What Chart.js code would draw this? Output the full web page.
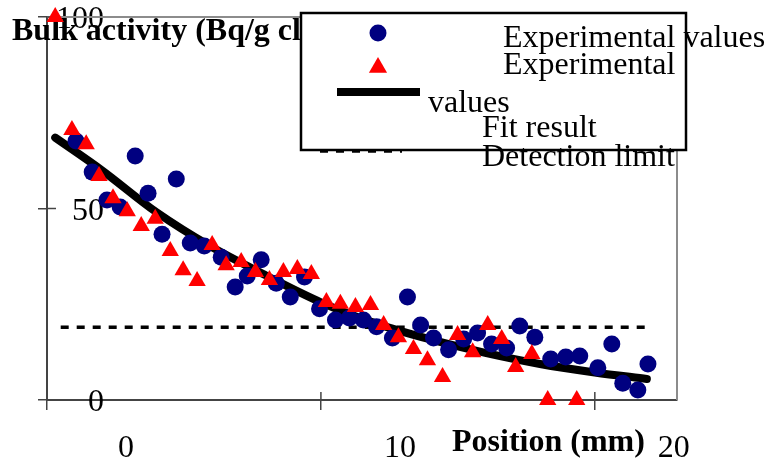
<!DOCTYPE html>
<html><head><meta charset="utf-8">
<script src="https://cdn.jsdelivr.net/npm/chart.js@4/dist/chart.umd.min.js"></script>
<style>html,body{margin:0;padding:0;background:#fff;}#wrap{width:768px;height:465px;}</style>
</head><body><div id="wrap"><canvas id="c" width="768" height="465"></canvas></div>
<script>
const circleX = [1.06,1.65,2.19,2.67,3.22,3.69,4.20,4.72,5.23,5.74,6.36,6.87,7.31,7.82,8.37,8.88,9.40,9.95,10.53,11.04,11.55,12.03,12.61,13.16,13.64,14.11,14.66,15.21,15.72,16.23,16.78,17.26,17.81,18.39,18.94,19.45,20.11,20.62,21.02,21.57,21.94];
const circleY = [67.6,59.5,52.2,50.4,63.7,54.0,43.3,57.7,41.0,40.2,37.3,29.5,32.4,36.6,30.5,26.9,32.1,23.8,20.9,21.4,20.9,19.1,16.2,26.9,19.6,16.2,13.1,15.9,17.5,14.6,13.6,19.3,16.4,10.7,11.2,11.5,8.4,14.6,4.4,2.6,9.4];
const triX = [0.3,0.91,1.43,1.90,2.41,2.93,3.44,3.95,4.50,4.97,5.48,6.03,6.54,7.09,7.61,8.12,8.63,9.14,9.65,10.20,10.71,11.26,11.81,12.29,12.83,13.38,13.89,14.44,14.99,15.54,16.09,16.60,17.11,17.70,18.28,19.34];
const triY = [100,70.5,66.8,58.5,52.7,49.3,45.4,47.3,38.9,33.9,31.1,40.5,35.2,36.0,33.4,31.3,33.4,34.2,32.9,25.6,25.1,24.3,24.8,19.6,16.4,13.3,10.4,6.0,17.0,12.5,19.6,15.9,8.6,12.0,0,0];
const fitX = [0.3,2,4,6,8,10,12,14,16,18,20,21.9];
const fitY = [68.5,60,49,40,32.5,25.5,20,15.8,12.3,9.4,7.2,5.5];
const limitX = [0.5,21.95];
const limitY = [19,19];
const xTicks = [0,10,20];
const yTicks = [0,50,100];
const seriesLabels = ['Experimental values','Experimental values','Fit result','Detection limit'];
const xTitle = 'Position (mm)';
const yTitle = 'Bulk activity (Bq/g clay)';

const FONT = '"Liberation Serif","Times New Roman",serif';
const pts = (xs, ys) => xs.map((v, i) => ({x: v, y: ys[i]}));

const deco = {
  id: 'deco',
  beforeDatasetsDraw(chart) {
    const {ctx, chartArea: a, scales: {x, y}} = chart;
    ctx.save();
    ctx.strokeStyle = '#8c8c8c'; ctx.lineWidth = 2;
    ctx.beginPath(); ctx.moveTo(a.left, a.top); ctx.lineTo(a.right, a.top); ctx.lineTo(a.right, a.bottom); ctx.stroke();
    ctx.strokeStyle = '#444'; ctx.lineWidth = 1.5;
    xTicks.forEach(v => { const px = x.getPixelForValue(v); ctx.beginPath(); ctx.moveTo(px, a.bottom); ctx.lineTo(px, a.bottom - 8); ctx.stroke(); });
    yTicks.forEach(v => { const py = y.getPixelForValue(v); ctx.beginPath(); ctx.moveTo(a.left, py); ctx.lineTo(a.left + 9, py); ctx.stroke(); });
    ctx.fillStyle = '#000'; ctx.font = 'bold 32px ' + FONT; ctx.textAlign = 'left'; ctx.textBaseline = 'alphabetic';
    ctx.fillText(yTitle, 12, 40);
    ctx.fillText(xTitle, 452, 451);
    ctx.restore();
  },
  afterDraw(chart) {
    const ctx = chart.ctx;
    ctx.save();
    ctx.strokeStyle = '#000'; ctx.setLineDash([8, 8]); ctx.lineWidth = 3.5;
    ctx.beginPath(); ctx.moveTo(320, 151); ctx.lineTo(402, 151); ctx.stroke();
    ctx.setLineDash([]);
    ctx.fillStyle = '#fff'; ctx.fillRect(301, 13, 385, 137);
    ctx.lineWidth = 2.5; ctx.strokeRect(301, 13, 385, 137);
    ctx.fillStyle = '#000080'; ctx.beginPath(); ctx.arc(378, 33, 8.5, 0, Math.PI * 2); ctx.fill();
    ctx.fillStyle = '#ff0000'; const r = 10.5, cx = 378, cy = 67.5;
    ctx.beginPath(); ctx.moveTo(cx, cy - r); ctx.lineTo(cx + r * 0.866, cy + r / 2); ctx.lineTo(cx - r * 0.866, cy + r / 2); ctx.closePath(); ctx.fill();
    ctx.lineWidth = 8; ctx.lineCap = 'butt';
    ctx.beginPath(); ctx.moveTo(337, 92); ctx.lineTo(420, 92); ctx.stroke();
    ctx.fillStyle = '#000'; ctx.font = '32px ' + FONT; ctx.textAlign = 'left'; ctx.textBaseline = 'alphabetic';
    ctx.fillText(seriesLabels[0], 503, 47);
    const parts = seriesLabels[1].split(' ');
    ctx.fillText(parts[0], 503, 74);
    ctx.fillText(parts[1], 428, 112);
    ctx.fillText(seriesLabels[2], 482, 137);
    ctx.fillText(seriesLabels[3], 482, 166);
    ctx.restore();
  }
};

new Chart(document.getElementById('c'), {
  type: 'scatter',
  data: {
    datasets: [
      {label: seriesLabels[1], data: pts(triX, triY), pointStyle: 'triangle', pointRadius: 10, backgroundColor: '#ff0000', borderWidth: 0, order: 0, clip: false},
      {label: seriesLabels[0], data: pts(circleX, circleY), pointStyle: 'circle', pointRadius: 8.5, backgroundColor: '#000080', borderWidth: 0, order: 1, clip: false},
      {type: 'line', label: seriesLabels[2], data: pts(fitX, fitY), borderColor: '#000', borderWidth: 8, pointRadius: 0, tension: 0.4, cubicInterpolationMode: 'monotone', borderCapStyle: 'round', fill: false, order: 2, clip: false},
      {type: 'line', label: seriesLabels[3], data: pts(limitX, limitY), borderColor: '#000', borderWidth: 3.5, borderDash: [8, 8], pointRadius: 0, fill: false, order: 3}
    ]
  },
  options: {
    responsive: false, animation: false, devicePixelRatio: 1,
    layout: {padding: {left: 0, right: 91, top: 17, bottom: 0}},
    plugins: {legend: {display: false}, tooltip: {enabled: false}},
    scales: {
      x: {
        type: 'linear', min: 0, max: 23,
        afterBuildTicks: s => { s.ticks = xTicks.map(v => ({value: v})); },
        afterFit: s => { s.height = 65; s.paddingLeft = 0; s.paddingRight = 0; },
        grid: {drawOnChartArea: false, tickLength: 10, color: '#444', lineWidth: 1.5},
        border: {display: true, color: '#444', width: 2},
        ticks: {font: {family: FONT, size: 32}, color: '#000', labelOffset: 79, padding: 19, maxRotation: 0, autoSkip: false}
      },
      y: {
        type: 'linear', min: 0, max: 100,
        afterBuildTicks: s => { s.ticks = yTicks.map(v => ({value: v})); },
        afterFit: s => { s.width = 47; s.paddingTop = 0; s.paddingBottom = 0; },
        grid: {drawOnChartArea: false, tickLength: 9, color: '#444', lineWidth: 1.5},
        border: {display: true, color: '#444', width: 2},
        ticks: {font: {family: FONT, size: 32}, color: '#000', mirror: true, crossAlign: 'far', padding: 9, labelOffset: 3, autoSkip: false}
      }
    }
  },
  plugins: [deco]
});
</script>
</body></html>
